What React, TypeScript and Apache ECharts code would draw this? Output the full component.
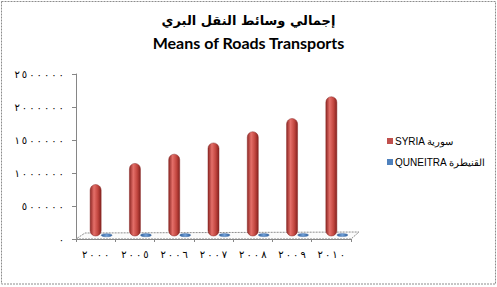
import React, { useEffect, useRef } from "react";
import * as echarts from "echarts";

const years = ["2000", "2005", "2006", "2007", "2008", "2009", "2010"];
const syria = [780000, 1100000, 1240000, 1410000, 1580000, 1780000, 2110000];
const quneitra = [4000, 5000, 5500, 6000, 6500, 7000, 7500];
const yTicks = { min: 0, max: 2500000, interval: 500000 };
const titleAr = "إجمالي وسائط النقل البري";
const titleEn = "Means of Roads Transports";
const nameSyria = "SYRIA سورية";
const nameQuneitra = "QUNEITRA القنيطرة";

const toArabicDigits = (s: string) =>
  "\u202D" +
  s
    .replace(/\d/g, (d) => "٠١٢٣٤٥٦٧٨٩"[Number(d)])
    .split("")
    .join("\u2009") +
  "\u202C";

export default function App() {
  const ref = useRef<HTMLDivElement>(null);
  useEffect(() => {
    document.body.style.margin = "0";
    const chart = echarts.init(ref.current!, undefined, { renderer: "svg" });
    const redGrad = new echarts.graphic.LinearGradient(0, 0, 1, 0, [
      { offset: 0, color: "#8e2724" },
      { offset: 0.35, color: "#e46f69" },
      { offset: 0.7, color: "#c2463f" },
      { offset: 1, color: "#85221f" },
    ]);
    const blueGrad = new echarts.graphic.LinearGradient(0, 0, 1, 0, [
      { offset: 0, color: "#2f5f9a" },
      { offset: 0.5, color: "#6f9fd8" },
      { offset: 1, color: "#2f5f9a" },
    ]);
    chart.setOption({
      animation: false,
      backgroundColor: "#ffffff",
      title: [
        {
          text: titleAr,
          left: "center",
          top: 9,
          textStyle: { fontFamily: "DejaVu Sans", fontSize: 13, fontWeight: "bold", color: "#000" },
        },
        {
          text: titleEn,
          left: "center",
          top: 29,
          textStyle: { fontFamily: "Lato", fontSize: 16, fontWeight: "bold", color: "#000" },
        },
      ],
      legend: {
        data: [nameSyria, nameQuneitra],
        orient: "vertical",
        left: 382,
        top: 131,
        itemWidth: 6,
        itemHeight: 6,
        itemGap: 11,
        icon: "rect",
        textStyle: { fontFamily: "Liberation Sans", fontSize: 10, color: "#000", padding: [0, 0, 0, -3] },
      },
      graphic: [
        {
          type: "rect",
          shape: { x: 1.5, y: 1.5, width: 494, height: 282.5 },
          style: { fill: "none", stroke: "#8c8c8c", lineWidth: 1, lineDash: [2, 1] },
          silent: true,
        },
      ],
      grid: { left: 76, right: 146, top: 74, bottom: 48 },
      xAxis: {
        type: "category",
        data: years,
        boundaryGap: true,
        axisLine: { lineStyle: { color: "#868686" } },
        axisTick: { show: true, length: 3, interval: 0, lineStyle: { color: "#868686" } },
        axisLabel: {
          margin: 10,
          fontFamily: "DejaVu Sans",
          fontSize: 10,
          color: "#000",
          formatter: (v: string) => toArabicDigits(v),
        },
      },
      yAxis: {
        type: "value",
        min: yTicks.min,
        max: yTicks.max,
        interval: yTicks.interval,
        splitLine: { show: false },
        axisLine: { show: true, lineStyle: { color: "#868686" } },
        axisTick: { show: true, length: 4, lineStyle: { color: "#868686" } },
        axisLabel: {
          margin: 12,
          fontFamily: "DejaVu Sans",
          fontSize: 10,
          color: "#000",
          formatter: (v: number) => toArabicDigits(String(v)),
        },
      },
      series: [
        {
          name: "floor",
          type: "custom",
          silent: true,
          z: 1,
          data: [[0, 0]],
          renderItem: (params: any, api: any) => {
            const cs = params.coordSys;
            const x0 = cs.x;
            const x1 = cs.x + cs.width;
            const yb = cs.y + cs.height;
            return {
              type: "polygon",
              shape: {
                points: [
                  [x0, yb],
                  [x1, yb],
                  [x1 + 8, yb - 7],
                  [x0 + 9, yb - 6],
                ],
              },
              style: { fill: "#fbfbfb", stroke: "#8c8c8c", lineWidth: 1, lineDash: [2, 1] },
            };
          },
        },
        {
          name: nameSyria,
          type: "custom",
          z: 3,
          itemStyle: { color: "#c0504d" },
          data: syria.map((v, i) => [i, v]),
          renderItem: (params: any, api: any) => {
            const base = api.coord([api.value(0), 0]);
            const top = api.coord([api.value(0), api.value(1)]);
            const w = 11;
            const off = 3;
            return {
              type: "rect",
              shape: {
                x: base[0] - w / 2,
                y: top[1] - off,
                width: w,
                height: base[1] - top[1],
                r: w / 2,
              },
              style: { fill: redGrad, stroke: "#8a2b28", lineWidth: 0.5 },
            };
          },
        },
        {
          name: nameQuneitra,
          type: "custom",
          z: 3,
          itemStyle: { color: "#4f81bd" },
          data: quneitra.map((v, i) => [i, v]),
          renderItem: (params: any, api: any) => {
            const base = api.coord([api.value(0), 0]);
            const top = api.coord([api.value(0), api.value(1)]);
            return {
              type: "ellipse",
              shape: { cx: base[0] + 11, cy: top[1] - 3.5, rx: 5.5, ry: 1.6 },
              style: { fill: blueGrad, stroke: "#3a66a0", lineWidth: 0.4 },
            };
          },
        },
      ],
    });
    return () => chart.dispose();
  }, []);
  return (
    <div
      ref={ref}
      style={{ position: "absolute", left: 0, top: 0, width: 497, height: 287 }}
    />
  );
}
